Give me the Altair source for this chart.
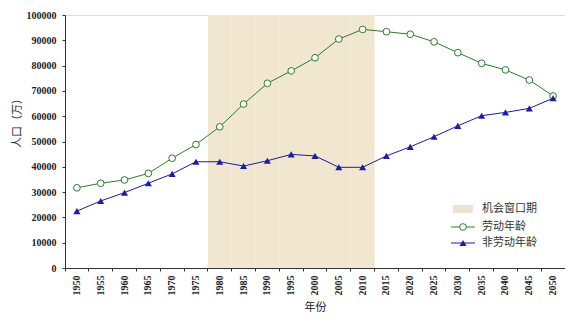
import altair as alt
import pandas as pd

years = [1950, 1955, 1960, 1965, 1970, 1975, 1980, 1985, 1990, 1995, 2000,
         2005, 2010, 2015, 2020, 2025, 2030, 2035, 2040, 2045, 2050]
labor = [31700, 33500, 34800, 37400, 43400, 48800, 55800, 64800, 73000, 77900, 83100,
         90500, 94300, 93400, 92400, 89400, 85100, 80900, 78300, 74300, 68000]
nonlabor = [22500, 26500, 29800, 33500, 37200, 42000, 42000, 40300, 42400, 44900, 44300,
            39800, 39800, 44300, 47900, 51900, 56200, 60200, 61500, 63100, 67100]
window_years = [1980, 1985, 1990, 1995, 2000, 2005, 2010]
y_ticks = [0, 10000, 20000, 30000, 40000, 50000, 60000, 70000, 80000, 90000, 100000]
legend_labels = ["机会窗口期", "劳动年龄", "非劳动年龄"]

GREEN = "#2f7a2f"
BLUE = "#1c1ca6"
SHADE = "#f1e6cf"
FONT = "Liberation Serif"
CJK = "Noto Sans CJK SC"

W, H = 500, 253

df = pd.DataFrame({"year": [str(y) for y in years], "labor": labor, "nonlabor": nonlabor})
win = pd.DataFrame({"year": [str(y) for y in window_years], "top": [100000] * len(window_years),
                    "bottom": [0] * len(window_years)})

xscale = alt.Scale(domain=[str(y) for y in years], paddingInner=0, paddingOuter=0)
yscale = alt.Scale(domain=[0, 100000], nice=False)

xaxis = alt.Axis(title="年份", labelAngle=270, labelFont=FONT, labelFontSize=10,
                 labelFontWeight="bold", labelColor="#222", bandPosition=0,
                 tickSize=3, tickColor="#333", domainColor="#333", labelPadding=4,
                 titleFont=CJK, titleFontSize=11, titleFontWeight="normal",
                 titleColor="#222", titlePadding=6, labelAlign="right", labelBaseline="middle",
                 labelOverlap=False)
yaxis = alt.Axis(title="人口（万）", values=y_ticks, format="d",
                 labelFont=FONT, labelFontSize=10, labelFontWeight="bold", labelColor="#222",
                 tickSize=3, tickColor="#333", domainColor="#333", labelPadding=6,
                 labelOverlap=False, grid=False, titleFont=CJK, titleFontSize=11,
                 titleFontWeight="normal", titleColor="#222", titleY=105, titleX=-43)


def X():
    return alt.X("year:O", scale=xscale, axis=xaxis, sort=None)


def Y(field):
    return alt.Y(field, scale=yscale, axis=yaxis)


shade = alt.Chart(win).mark_rect(fill=SHADE, stroke=None).encode(
    x=X(), y=Y("top:Q"), y2="bottom:Q",
)

base = alt.Chart(df)

labor_line = base.mark_line(color=GREEN, strokeWidth=1).encode(x=X(), y=Y("labor:Q"))
labor_pts = base.mark_point(shape="circle", filled=True, fill="white", stroke=GREEN,
                            strokeWidth=1, size=45, opacity=1).encode(x=X(), y=Y("labor:Q"))
non_line = base.mark_line(color=BLUE, strokeWidth=1).encode(x=X(), y=Y("nonlabor:Q"))
non_pts = base.mark_point(shape="triangle-up", filled=True, color=BLUE, size=50,
                          opacity=1).encode(x=X(), y=Y("nonlabor:Q"))

one = pd.DataFrame({"k": [0]})
lx0, lx1, lxt = 386, 410, 417
rows = [194, 212, 228]

leg_shade = alt.Chart(one).mark_rect(fill="#e8dcc4", opacity=0.8).encode(
    x=alt.value(lx0 + 2), x2=alt.value(lx1 - 2), y=alt.value(rows[0] - 4), y2=alt.value(rows[0] + 4))
leg_g_line = alt.Chart(one).mark_rule(color=GREEN, strokeWidth=1).encode(
    x=alt.value(lx0), x2=alt.value(lx1), y=alt.value(rows[1]))
leg_g_pt = alt.Chart(one).mark_point(shape="circle", filled=True, fill="white", stroke=GREEN,
                                     strokeWidth=1, size=45, opacity=1).encode(
    x=alt.value((lx0 + lx1) / 2), y=alt.value(rows[1]))
leg_b_line = alt.Chart(one).mark_rule(color=BLUE, strokeWidth=1).encode(
    x=alt.value(lx0), x2=alt.value(lx1), y=alt.value(rows[2]))
leg_b_pt = alt.Chart(one).mark_point(shape="triangle-up", filled=True, color=BLUE, size=50,
                                     opacity=1).encode(
    x=alt.value((lx0 + lx1) / 2), y=alt.value(rows[2]))
leg_texts = [
    alt.Chart(one).mark_text(align="left", baseline="middle", font=CJK, fontSize=11,
                             color="#333").encode(
        x=alt.value(lxt), y=alt.value(r), text=alt.value(t))
    for t, r in zip(legend_labels, rows)
]

chart = alt.layer(
    shade, labor_line, non_line, labor_pts, non_pts,
    leg_shade, leg_g_line, leg_g_pt, leg_b_line, leg_b_pt, *leg_texts
).properties(
    width=W, height=H,
    autosize=alt.AutoSizeParams(type="none"),
    padding={"left": 57, "top": 7, "right": 0, "bottom": 51},
).configure_view(stroke="#888", strokeWidth=1).configure(background="white")

chart.save("out.html", embed_options={"renderer": "svg", "actions": False})
